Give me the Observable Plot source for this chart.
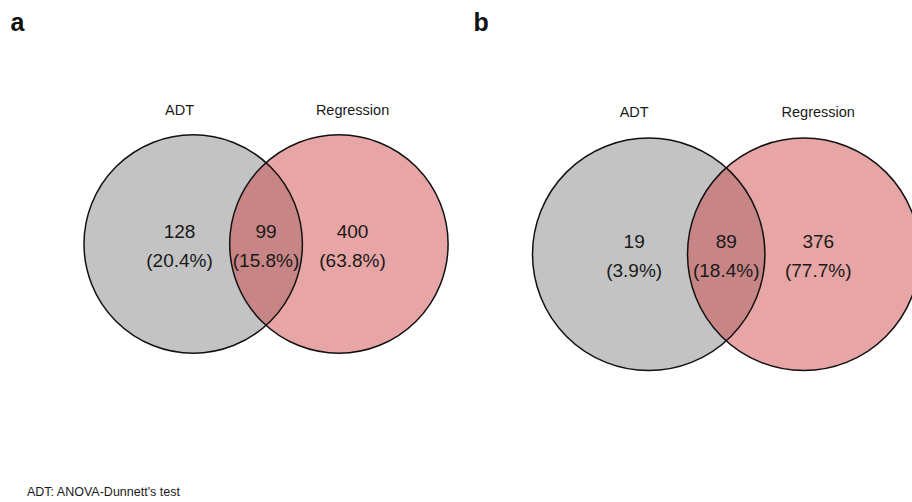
<!DOCTYPE html>
<html>
<head>
<meta charset="utf-8">
<script src="https://cdn.jsdelivr.net/npm/d3@7"></script>
<script src="https://cdn.jsdelivr.net/npm/@observablehq/plot@0.6"></script>
<style>
  html, body { margin: 0; padding: 0; background: #fff; }
  #wrap { position: relative; width: 912px; height: 502px; overflow: hidden; }
  #caption { position: absolute; left: 27px; top: 485px; font: 12.5px "Liberation Sans", Arial, sans-serif; color: #1a1a1a; white-space: nowrap; }
</style>
</head>
<body>
<div id="wrap">
  <div id="chart"></div>
  <div id="caption">ADT: ANOVA-Dunnett's test</div>
</div>
<script>
// ---- data ----
const panels = ["a", "b"];
const setNames = ["ADT", "Regression"];
const onlyADT = [128, 19];
const both = [99, 89];
const onlyRegression = [400, 376];

// ---- layout (pixel space) ----
const W = 912, H = 484;
const layout = [
  {left: 83.5, cy: 243.5, r: 109.2, gap: 145.7, labelY: 114, labelX: 10},
  {left: 532, cy: 253.8, r: 116.2, gap: 155, labelY: 116, labelX: 473}
];

const circles = [], texts = [], setLabels = [], panelLabels = [];
panels.forEach((p, i) => {
  const L = layout[i];
  const c1 = L.left + L.r, c2 = c1 + L.gap;
  const total = onlyADT[i] + both[i] + onlyRegression[i];
  circles.push({panel: p, set: setNames[0], x: c1, y: L.cy, r: L.r});
  circles.push({panel: p, set: setNames[1], x: c2, y: L.cy, r: L.r});
  const off = 0.125 * L.r;
  const xs = [c1 - off, (c2 - L.r + c1 + L.r) / 2, c2 + off];
  const vals = [onlyADT[i], both[i], onlyRegression[i]];
  vals.forEach((v, k) => {
    texts.push({x: xs[k], y: L.cy - 6.5, t: String(v)});
    texts.push({x: xs[k], y: L.cy + 23, t: `(${(100 * v / total).toFixed(1)}%)`});
  });
  setLabels.push({x: xs[0], y: L.labelY, t: setNames[0]});
  setLabels.push({x: xs[2], y: L.labelY, t: setNames[1]});
  panelLabels.push({x: L.labelX, y: 30, t: p});
});

const font = "Liberation Sans, Arial, Helvetica, sans-serif";
const chart = Plot.plot({
  width: W, height: H,
  margin: 0,
  x: {domain: [0, W], range: [0, W], axis: null},
  y: {domain: [0, H], range: [0, H], axis: null},
  r: {type: "identity"},
  style: {fontFamily: font, background: "white"},
  marks: [
    Plot.dot(circles.filter(d => d.set === "ADT"), {x: "x", y: "y", r: "r", fill: "#c3c3c3", stroke: "none"}),
    Plot.dot(circles.filter(d => d.set === "Regression"), {x: "x", y: "y", r: "r", fill: "#cf4242", fillOpacity: 0.475, stroke: "none"}),
    Plot.dot(circles, {x: "x", y: "y", r: "r", fill: "none", stroke: "#111", strokeWidth: 1.5}),
    Plot.text(texts, {x: "x", y: "y", text: "t", fontSize: 19, fill: "#1a1a1a", lineAnchor: "bottom", textAnchor: "middle"}),
    Plot.text(setLabels, {x: "x", y: "y", text: "t", fontSize: 14.5, fill: "#1a1a1a", lineAnchor: "bottom", textAnchor: "middle"}),
    Plot.text(panelLabels, {x: "x", y: "y", text: "t", fontSize: 25, fontWeight: "bold", fill: "#111", lineAnchor: "bottom", textAnchor: "start"})
  ]
});
document.getElementById("chart").appendChild(chart);
</script>
</body>
</html>
